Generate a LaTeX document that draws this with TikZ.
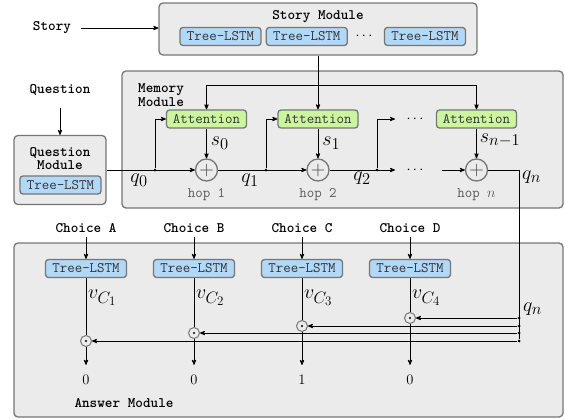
\RequirePackage{fix-cm}
\documentclass[tikz,border=0pt]{standalone}
\usepackage{tikz}
\usetikzlibrary{arrows, fit, positioning, shapes}
\DeclareMathSizes{20}{20}{16.5}{13}
\definecolor{my_gray}{RGB}{235, 235, 235}
\definecolor{my_border}{RGB}{118, 118, 118}
\definecolor{my_lightblue}{RGB}{178, 216, 248}
\definecolor{my_green}{RGB}{204, 245, 160}
\tikzset {
  bigbox/.style = {draw=my_border, line width=1.3pt, fill=my_gray, rounded corners=4pt, rectangle},
  box/.style = {draw=my_border, line width=1.3pt, minimum height=18pt, minimum width=81pt, inner sep=0pt, rounded corners=3pt, rectangle, text=black!80, font=\ttfamily},
  lstm/.style = {box, fill=my_lightblue},
  attn/.style = {box, fill=my_green, minimum width=80pt},
  title/.style = {font=\ttfamily\bfseries, align=center, inner sep=0pt},
  plus/.style = {draw=my_border, line width=1.3pt, circle, fill=my_gray, minimum size=22pt, inner sep=0pt, text=black!75},
  prod/.style = {draw=my_border, line width=1pt, circle, fill=my_gray, minimum size=11pt, inner sep=0pt},
  junc/.style = {circle, fill=black, minimum size=3pt, inner sep=0pt},
  line/.style = {->, line width=0.8pt, color=black, >=stealth'},
  hop/.style = {font=\ttfamily, text=black!65, inner sep=0pt},
  plain/.style = {inner sep=0pt},
  mlabel/.style = {inner sep=0pt, font=\fontsize{20}{20}\selectfont}
}

\begin{document}
\fontsize{14.5}{13.5}\selectfont
\begin{tikzpicture}[x=1pt, y=-1pt]
    \useasboundingbox (0,0) rectangle (565,418);

    % story module
    \node[bigbox, minimum width=318pt, minimum height=52pt] (storymod) at (318,29) {};
    \node[title] (storytitle) at (318,17) {Story Module};
    \node[lstm] (slstm1) at (220.5,36.5) {Tree-LSTM};
    \node[lstm, right=4pt of slstm1] (slstm2) {Tree-LSTM};
    \node[plain] (sdots) at (364,36.5) {$\cdots$};
    \node[lstm] (slstm3) at (425,36.5) {Tree-LSTM};
    \node[title] (story) at (52,28) {Story};

    % memory module
    \node[bigbox, minimum width=441pt, minimum height=137pt] (memmod) at (342.5,139.5) {};
    \node[title, align=left, anchor=north west] (memtitle) at (138,83.5) {Memory\\Module};
    \node[attn] (att1) at (206.5,119) {Attention};
    \node[attn] (att2) at (318,119) {Attention};
    \node[attn] (attn) at (476.5,119) {Attention};
    \node[plain] (adots) at (415,119) {$\cdots$};
    \node[plus] (hop1) at (206.5,170) {\fontsize{20}{20}\selectfont$+$};
    \node[plus] (hop2) at (318,170) {\fontsize{20}{20}\selectfont$+$};
    \node[plus] (hopn) at (476.5,170) {\fontsize{20}{20}\selectfont$+$};
    \node[plain] (mdots) at (415,170) {$\cdots$};
    \node[hop, below=7pt of hop1] (hl1) {hop 1};
    \node[hop, below=7pt of hop2] (hl2) {hop 2};
    \node[hop, below=7pt of hopn] (hln) {hop $n$};
    \node[junc] (j0) at (155,170) {};
    \node[junc] (j1) at (266,170) {};
    \node[junc] (j2) at (377,170) {};
    \node[mlabel] (q0) at (139,180) {$q_0$};
    \node[mlabel] (q1) at (250,180) {$q_1$};
    \node[mlabel] (q2) at (362,178) {$q_2$};
    \node[mlabel, anchor=west] (qn) at (522,177) {$q_n$};
    \coordinate (split) at (318,85);
    \coordinate (lend) at (395,170);
    \coordinate (aend) at (395,119);
    \coordinate (lstart) at (442,170);
    \coordinate (qcorner) at (519,170);

    % question module
    \node[title] (question) at (60,90) {Question};
    \node[bigbox, minimum width=92pt, minimum height=69pt] (qmod) at (60,170) {};
    \node[title] (qtitle) at (60,158.5) {Question\\Module};
    \node[lstm] (qlstm) at (60.5,185) {Tree-LSTM};

    % answer module
    \node[bigbox, minimum width=549pt, minimum height=174pt] (ansmod) at (288.5,330) {};
    \node[title] (anstitle) at (124,403) {Answer Module};
    \node[title] (choiceA) at (86,228) {Choice A};
    \node[title] (choiceB) at (194,228) {Choice B};
    \node[title] (choiceC) at (302,228) {Choice C};
    \node[title] (choiceD) at (410,228) {Choice D};
    \node[lstm] (clstmA) at (86,268.5) {Tree-LSTM};
    \node[lstm] (clstmB) at (194,268.5) {Tree-LSTM};
    \node[lstm] (clstmC) at (302,268.5) {Tree-LSTM};
    \node[lstm] (clstmD) at (410,268.5) {Tree-LSTM};
    \node[prod] (prodA) at (86,341) {};
    \node[prod] (prodB) at (194,333) {};
    \node[prod] (prodC) at (302,326) {};
    \node[prod] (prodD) at (410,318) {};
    \node[mlabel, anchor=west] (vA) at (88,298) {$v_{C_1}$};
    \node[mlabel, anchor=west] (vB) at (196,298) {$v_{C_2}$};
    \node[mlabel, anchor=west] (vC) at (304,298) {$v_{C_3}$};
    \node[mlabel, anchor=west] (vD) at (412,298) {$v_{C_4}$};
    \node[plain] (outA) at (86,380) {0};
    \node[plain] (outB) at (194,380) {0};
    \node[plain] (outC) at (302,380) {1};
    \node[plain] (outD) at (410,380) {0};
    \node[junc] (jD) at (519,318) {};
    \node[junc] (jC) at (519,326) {};
    \node[junc] (jB) at (519,333) {};
    \node[junc] (jA) at (519,341) {};
    \node[mlabel, anchor=west] (qn2) at (523,309) {$q_n$};

    \fill (prodA.center) circle (1.1pt);
    \fill (prodB.center) circle (1.1pt);
    \fill (prodC.center) circle (1.1pt);
    \fill (prodD.center) circle (1.1pt);

    \draw[line, shorten <=10pt] (story.east) -- (storymod.west |- story);
    \draw[line] (storymod) -- (att2);
    \draw[line] (split) -| (att1.north);
    \draw[line] (split) -| (attn.north);
    \draw[line, shorten <=12pt] (question) -- (qmod);

    \draw[line] (qmod.east) -- (hop1.west);
    \draw[line] (j0) |- (att1.west);
    \draw[line] (hop1.east) -- (hop2.west);
    \draw[line] (j1) |- (att2.west);
    \draw[line] (hop2.east) -- (lend);
    \draw[line] (j2) |- (aend);
    \draw[line] (lstart) -- (hopn.west);
    \draw[line] (att1) -- node[mlabel, right, inner sep=4pt] {$s_0$} (hop1);
    \draw[line] (att2) -- node[mlabel, right, inner sep=4pt] {$s_1$} (hop2);
    \draw[line] (attn) -- node[mlabel, right, inner sep=3pt, yshift=3pt] {$s_{n-1}$} (hopn);
    \draw[line width=0.8pt] (hopn.east) -- (qcorner) -- (jA);

    \draw[line, shorten <=4pt] (choiceA) -- (clstmA);
    \draw[line, shorten <=4pt] (choiceB) -- (clstmB);
    \draw[line, shorten <=4pt] (choiceC) -- (clstmC);
    \draw[line, shorten <=4pt] (choiceD) -- (clstmD);
    \draw[line width=0.8pt] (clstmA) -- (prodA);
    \draw[line width=0.8pt] (clstmB) -- (prodB);
    \draw[line width=0.8pt] (clstmC) -- (prodC);
    \draw[line width=0.8pt] (clstmD) -- (prodD);
    \draw[line, shorten >=10pt] (prodA) -- (outA);
    \draw[line, shorten >=10pt] (prodB) -- (outB);
    \draw[line, shorten >=10pt] (prodC) -- (outC);
    \draw[line, shorten >=10pt] (prodD) -- (outD);
    \draw[line] (jD) -- (prodD);
    \draw[line] (jC) -- (prodC);
    \draw[line] (jB) -- (prodB);
    \draw[line] (jA) -- (prodA);

  \end{tikzpicture}
\end{document}
